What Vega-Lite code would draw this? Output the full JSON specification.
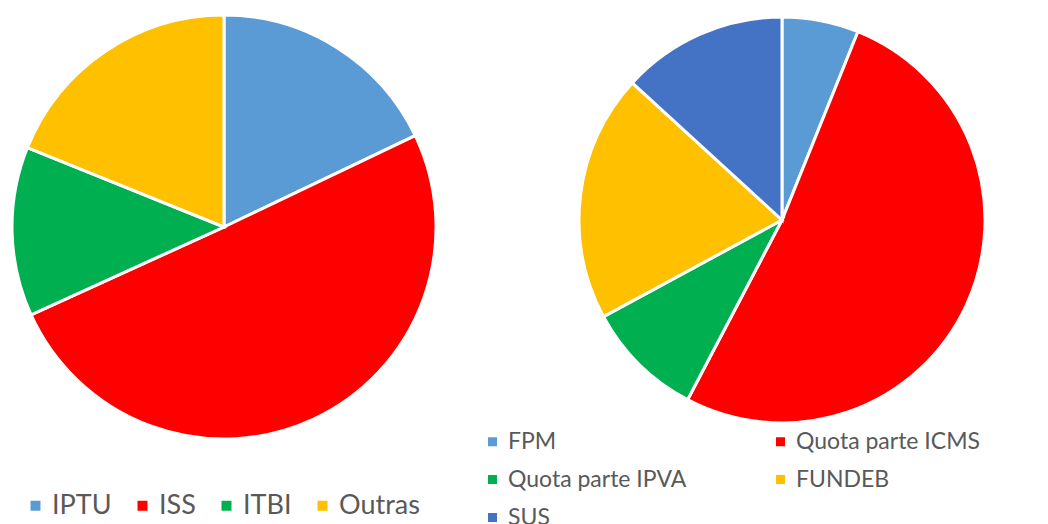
{
  "$schema": "https://vega.github.io/schema/vega-lite/v6.json",
  "padding": 0,
  "bounds": "flush",
  "spacing": 131,
  "background": "white",
  "config": {"view": {"stroke": null}},
  "datasets": {
    "esquerda": [
      {"receita": "IPTU", "ordem": 1, "valor": 17.9},
      {"receita": "ISS", "ordem": 2, "valor": 50.3},
      {"receita": "ITBI", "ordem": 3, "valor": 12.9},
      {"receita": "Outras", "ordem": 4, "valor": 18.9}
    ],
    "direita": [
      {"receita": "FPM", "ordem": 1, "valor": 6.1},
      {"receita": "Quota parte ICMS", "ordem": 2, "valor": 51.6},
      {"receita": "Quota parte IPVA", "ordem": 3, "valor": 9.4},
      {"receita": "FUNDEB", "ordem": 4, "valor": 19.7},
      {"receita": "SUS", "ordem": 5, "valor": 13.2}
    ]
  },
  "resolve": {"scale": {"color": "independent", "theta": "independent"}, "legend": {"color": "independent"}},
  "hconcat": [
    {
      "width": 448,
      "height": 454,
      "data": {"name": "esquerda"},
      "mark": {"type": "arc", "outerRadius": 212, "stroke": "white", "strokeWidth": 3},
      "encoding": {
        "theta": {"field": "valor", "type": "quantitative", "stack": true},
        "order": {"field": "ordem", "type": "quantitative"},
        "color": {
          "field": "receita",
          "type": "nominal",
          "scale": {"domain": ["IPTU", "ISS", "ITBI", "Outras"], "range": ["#5B9BD5", "#FF0000", "#00B050", "#FFC000"]},
          "legend": {
            "title": null,
            "orient": "none",
            "direction": "horizontal",
            "legendX": 22,
            "legendY": 492,
            "padding": 0,
            "symbolType": "square",
            "symbolSize": 100,
            "symbolStrokeWidth": 0,
            "labelFont": "Lato",
            "labelFontSize": 27,
            "labelColor": "#595959",
            "labelLimit": 400,
            "labelOffset": 3,
            "columnPadding": 17
          }
        }
      }
    },
    {
      "width": 406,
      "height": 440,
      "data": {"name": "direita"},
      "mark": {"type": "arc", "outerRadius": 203, "stroke": "white", "strokeWidth": 3},
      "encoding": {
        "theta": {"field": "valor", "type": "quantitative", "stack": true},
        "order": {"field": "ordem", "type": "quantitative"},
        "color": {
          "field": "receita",
          "type": "nominal",
          "scale": {"domain": ["FPM", "Quota parte ICMS", "Quota parte IPVA", "FUNDEB", "SUS"], "range": ["#5B9BD5", "#FF0000", "#00B050", "#FFC000", "#4472C4"]},
          "legend": {
            "title": null,
            "orient": "none",
            "direction": "horizontal",
            "columns": 2,
            "legendX": -98,
            "legendY": 430,
            "padding": 0,
            "symbolType": "square",
            "symbolSize": 81,
            "symbolStrokeWidth": 0,
            "labelFont": "Lato",
            "labelFontSize": 23,
            "labelColor": "#595959",
            "labelLimit": 400,
            "labelOffset": 4,
            "columnPadding": 82,
            "rowPadding": 14
          }
        }
      }
    }
  ]
}
